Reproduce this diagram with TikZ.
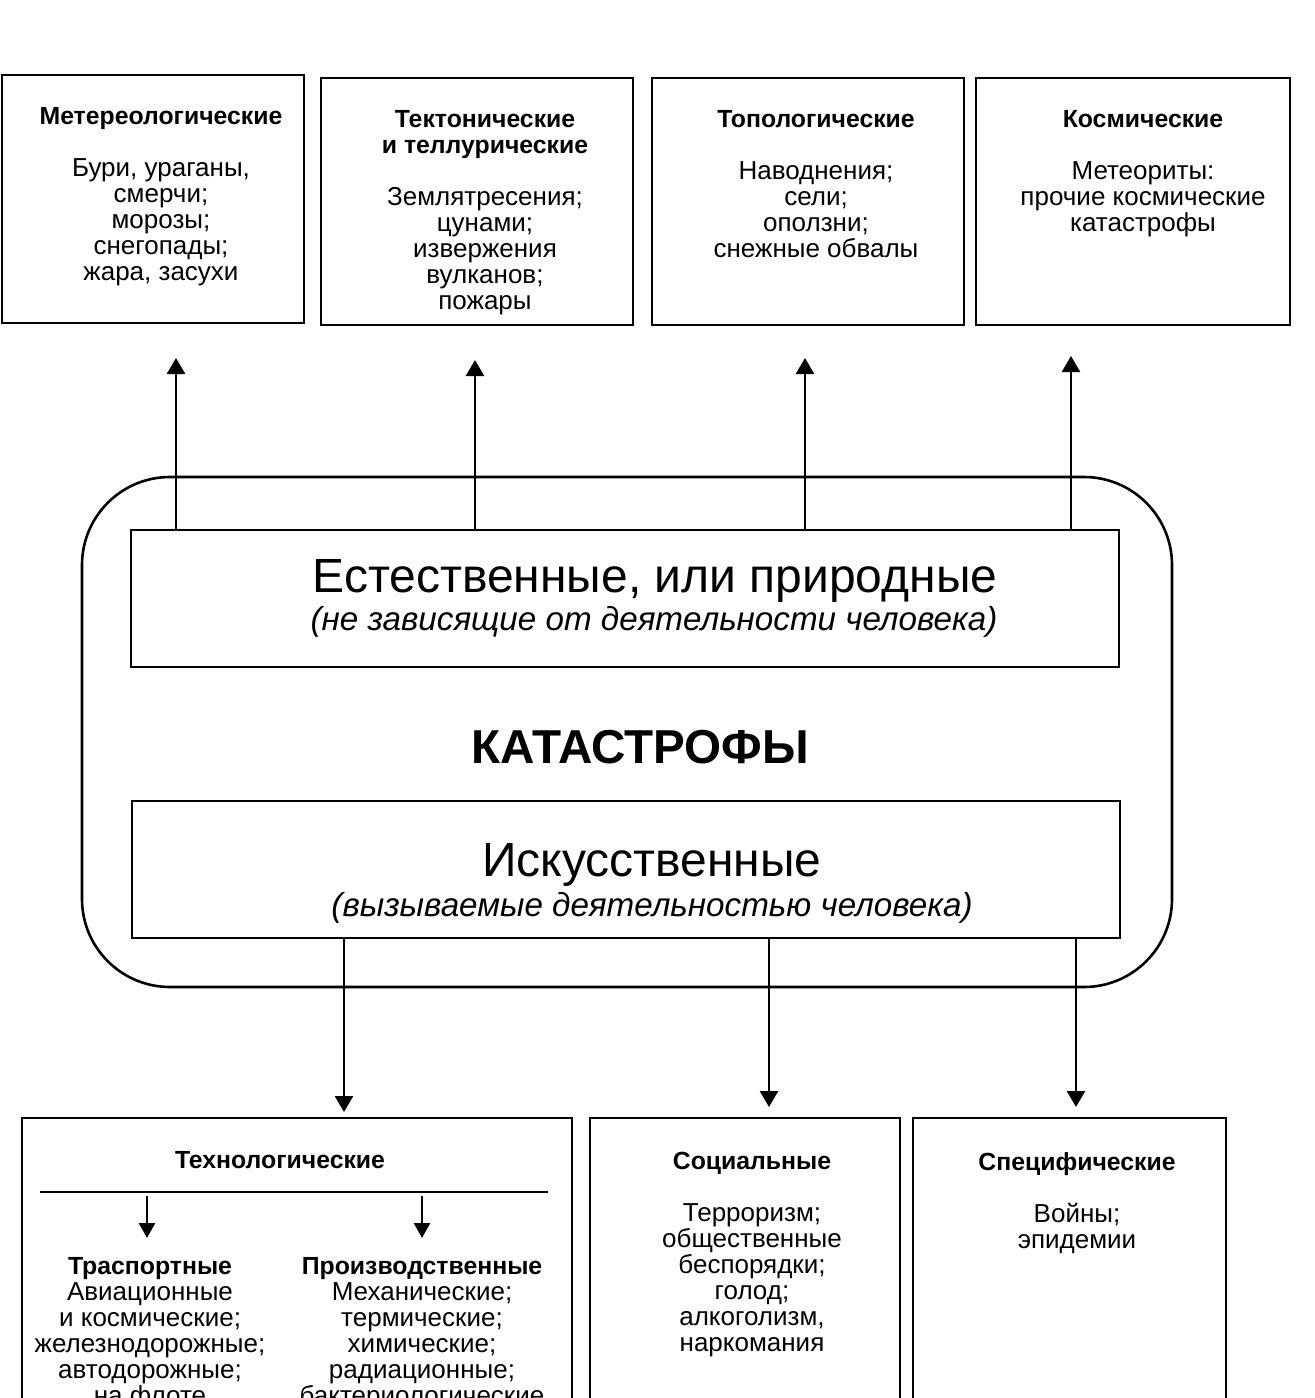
\documentclass[tikz,border=0pt]{standalone}
\usepackage{fontspec}
\setmainfont{Liberation Sans}
\usetikzlibrary{arrows.meta}
\newcommand\ttl[1]{{\fontsize{12.4}{13}\selectfont\bfseries #1}}
\begin{document}
\begin{tikzpicture}[x=0.5pt,y=-0.5pt,
  box/.style={draw, line width=1.2pt, inner sep=0pt},
  txt/.style={align=center, inner sep=0pt, anchor=north, font=\fontsize{13}{13}\selectfont},
  big/.style={inner sep=0pt, font=\fontsize{24}{28}\selectfont},
  sub/.style={inner sep=0pt, font=\fontsize{16.6}{20}\selectfont\itshape},
  arr/.style={line width=1.3pt, -{Triangle[length=8pt,width=9pt]}},
  sarr/.style={line width=1.3pt, -{Triangle[length=7.5pt,width=8pt]}},
]
\clip (0,0) rectangle (1314,1398);
\fill[white] (0,0) rectangle (1314,1398);

% top boxes
\node[box, minimum width=151pt, minimum height=124pt] (b1) at (153,199) {};
\node[box, minimum width=156pt, minimum height=123.5pt] (b2) at (477,201.5) {};
\node[box, minimum width=156pt, minimum height=123.5pt] (b3) at (808,201.5) {};
\node[box, minimum width=157pt, minimum height=123.5pt] (b4) at (1133,201.5) {};

\node[txt] (t1) at (161,107) {\ttl{Метереологические}\\[13pt]Бури, ураганы,\\смерчи;\\морозы;\\снегопады;\\жара, засухи};
\node[txt] (t2) at (485,110) {\ttl{Тектонические}\\\ttl{и теллурические}\\[13pt]Землятресения;\\цунами;\\извержения\\вулканов;\\пожары};
\node[txt] (t3) at (816,110) {\ttl{Топологические}\\[13pt]Наводнения;\\сели;\\оползни;\\снежные обвалы};
\node[txt] (t4) at (1143,110) {\ttl{Космические}\\[13pt]Метеориты:\\прочие космические\\катастрофы};

% central block
\node[draw, line width=1.3pt, rounded corners=44pt, minimum width=545pt, minimum height=255pt, inner sep=0pt] (outer) at (627,732) {};
\node[box, minimum width=494pt, minimum height=68.5pt] (nat) at (625,598.5) {};
\node[box, minimum width=494pt, minimum height=68.5pt] (art) at (626,869.5) {};

\node[big] (natt) at (655,581) {Естественные, или природные};
\node[sub] (nats) at (654,622) {(не зависящие от деятельности человека)};
\node[inner sep=0pt, font=\fontsize{23.8}{26}\selectfont\bfseries] (kat) at (640,747) {КАТАСТРОФЫ};
\node[big] (artt) at (652,865) {Искусственные};
\node[sub] (arts) at (652,908) {(вызываемые деятельностью человека)};

% arrows up
\coordinate (u1) at (176,358);
\coordinate (u2) at (475,360);
\coordinate (u3) at (805,358);
\coordinate (u4) at (1071,356);
\draw[arr] (u1 |- nat.north) -- (u1);
\draw[arr] (u2 |- nat.north) -- (u2);
\draw[arr] (u3 |- nat.north) -- (u3);
\draw[arr] (u4 |- nat.north) -- (u4);

% arrows down
\coordinate (d1) at (344,1112);
\coordinate (d2) at (769,1107);
\coordinate (d3) at (1076,1107);
\draw[arr] (d1 |- art.south) -- (d1);
\draw[arr] (d2 |- art.south) -- (d2);
\draw[arr] (d3 |- art.south) -- (d3);

% bottom boxes
\node[box, minimum width=275pt, minimum height=170pt] (ba) at (297,1288) {};
\node[box, minimum width=155pt, minimum height=170pt] (bb) at (745,1288) {};
\node[box, minimum width=156.5pt, minimum height=170pt] (bc) at (1069.5,1288) {};

\node[txt] (tech) at (280,1151) {\ttl{Технологические}};
\coordinate (hl1) at (40,1192);
\coordinate (hl2) at (548,1192);
\draw[line width=1.2pt] (hl1) -- (hl2);
\coordinate (s1a) at (147,1196);
\coordinate (s1b) at (147,1238);
\coordinate (s2a) at (422,1196);
\coordinate (s2b) at (422,1238);
\draw[sarr] (s1a) -- (s1b);
\draw[sarr] (s2a) -- (s2b);

\node[txt] (trans) at (150,1257) {\ttl{Траспортные}\\Авиационные\\и космические;\\железнодорожные;\\автодорожные;\\на флоте};
\node[txt] (prod) at (422,1257) {\ttl{Производственные}\\Механические;\\термические;\\химические;\\радиационные;\\бактериологические};

\node[txt] (soc) at (752,1152) {\ttl{Социальные}\\[13pt]Терроризм;\\общественные\\беспорядки;\\голод;\\алкоголизм,\\наркомания};
\node[txt] (spec) at (1077,1152) {\ttl{Специфические}\\[13pt]Войны;\\эпидемии};
\end{tikzpicture}
\end{document}
